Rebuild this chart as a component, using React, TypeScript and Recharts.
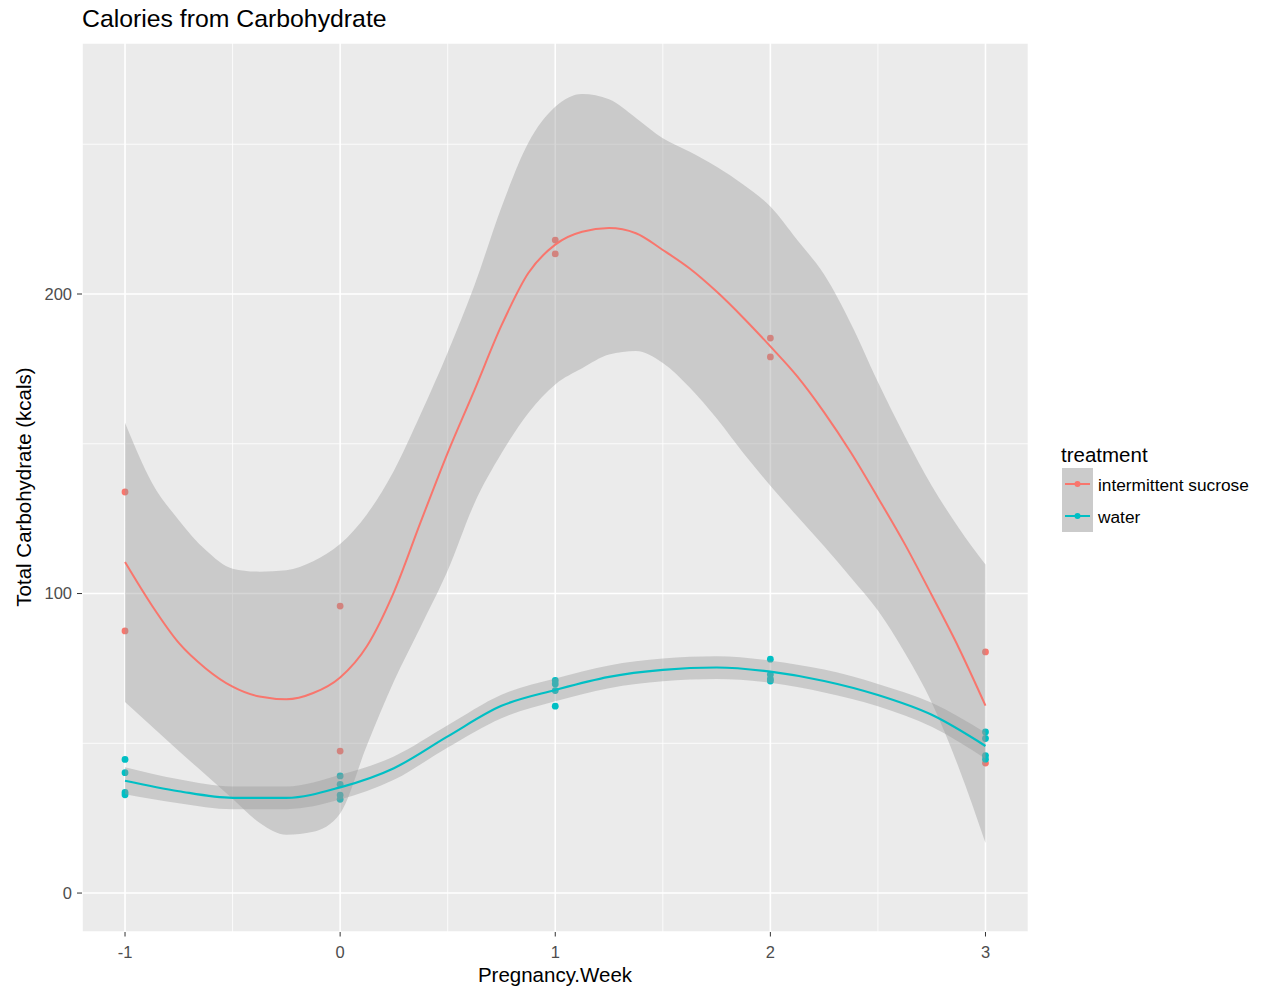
import React from 'react';
import {
  ComposedChart,
  Area,
  Line,
  Scatter,
  XAxis,
  YAxis,
  CartesianGrid,
} from 'recharts';

// ---- data ----
// sucrose loess fit, sampled along the drawn curve
const sucroseFitWeeks = [-1, -0.875, -0.75, -0.625, -0.5, -0.375, -0.25, -0.125, 0, 0.125, 0.25, 0.375, 0.5, 0.625, 0.75, 0.875, 1, 1.125, 1.25, 1.375, 1.5, 1.625, 1.75, 1.875, 2, 2.125, 2.25, 2.375, 2.5, 2.625, 2.75, 2.875, 3];
const sucroseFit = [110.5, 96, 83.5, 75, 68.9, 65.6, 64.7, 66.8, 72, 82.5, 100.5, 124, 147, 168, 189.5, 207, 216.5, 220.8, 222, 220.3, 214.7, 208.5, 200.8, 192, 182.5, 172.5, 160.5, 147, 132, 116.5, 99.5, 82, 62.6];

// sucrose confidence band
const sucroseBandWeeks = [-1, -0.875, -0.75, -0.625, -0.5, -0.375, -0.25, -0.125, 0, 0.125, 0.25, 0.375, 0.5, 0.625, 0.75, 0.875, 1, 1.125, 1.25, 1.375, 1.5, 1.625, 1.75, 1.875, 2, 2.125, 2.25, 2.375, 2.5, 2.625, 2.75, 2.875, 3];
const sucroseLower = [63.8, 55.6, 47.4, 39.5, 31.5, 23.5, 19.5, 20.5, 26.6, 49.4, 70.7, 89, 107.7, 130.2, 146.8, 160.3, 169.8, 175.2, 179.8, 181, 177, 168.8, 158.5, 146.8, 136, 125.8, 115.8, 105.3, 94.3, 80.2, 63.6, 42, 16.7];
const sucroseUpper = [157, 137, 124.5, 114.5, 108.3, 107.3, 107.8, 110.8, 116.5, 126.5, 141, 160, 180.5, 203, 229, 250.5, 262.5, 266.8, 265, 258.8, 252, 247.5, 242.5, 236.5, 229.2, 218, 206.5, 190, 170.6, 152.5, 136, 122, 109.7];

// water loess fit and band
const waterWeeks = [-1, -0.75, -0.5, -0.25, 0, 0.25, 0.5, 0.75, 1, 1.25, 1.5, 1.75, 2, 2.25, 2.5, 2.75, 3];
const waterFit = [37.5, 34, 31.8, 31.8, 35.3, 41.7, 52.3, 62.5, 67.8, 72.2, 74.5, 75.3, 73.9, 70.8, 66.1, 59.5, 49.1];
const waterLower = [33, 30, 28, 28, 31.2, 37.8, 48.6, 58.4, 64, 68.4, 70.7, 71.5, 70.2, 67, 62.4, 55.5, 44.8];
const waterUpper = [42, 38, 35.6, 35.6, 39.5, 45.6, 56, 66.2, 71.6, 76, 78.3, 79.1, 77.6, 74.6, 69.8, 63.5, 53.5];

// observed points
const sucrosePointWeeks = [-1, -1, 0, 0, 1, 1, 2, 2, 3, 3];
const sucrosePointKcal = [133.9, 87.5, 95.8, 47.4, 218, 213.4, 185.3, 179, 80.5, 43.4];
const waterPointWeeks = [-1, -1, -1, -1, 0, 0, 0, 0, 1, 1, 1, 1, 2, 2, 2, 2, 3, 3, 3, 3];
const waterPointKcal = [44.6, 40.2, 33.6, 32.8, 39.1, 36.3, 32.7, 31.3, 71, 69.8, 67.6, 62.4, 78.1, 73, 71.5, 70.8, 53.8, 51.6, 45.9, 44.7];

const xTicks = [-1, 0, 1, 2, 3];
const yTicks = [0, 100, 200];
const xMinor = [-0.5, 0.5, 1.5, 2.5];
const yMinor = [50, 150, 250];
const xDomain: [number, number] = [-1.2, 3.2];
const yDomain: [number, number] = [-13, 283.8];

const treatments = ['intermittent sucrose', 'water'];
const RED = '#F8766D';
const CYAN = '#00BFC4';

// ---- tables built from the arrays ----
const sucroseFitData = sucroseFitWeeks.map((w, i) => ({ week: w, fit: sucroseFit[i] }));
const sucroseBandData = sucroseBandWeeks.map((w, i) => ({ week: w, band: [sucroseLower[i], sucroseUpper[i]] }));
const waterData = waterWeeks.map((w, i) => ({ week: w, fit: waterFit[i], band: [waterLower[i], waterUpper[i]] }));
const sucrosePoints = sucrosePointWeeks.map((w, i) => ({ week: w, kcal: sucrosePointKcal[i] }));
const waterPoints = waterPointWeeks.map((w, i) => ({ week: w, kcal: waterPointKcal[i] }));

const FONT = '"Liberation Sans", Arial, Helvetica, sans-serif';

const dot = (color: string) => (p: any) => (
  <circle cx={p.cx} cy={p.cy} r={3.4} fill={color} stroke="none" />
);

const minorH = ({ yAxis, offset }: any) => {
  if (yAxis && typeof yAxis.scale === 'function') return yMinor.map((v) => yAxis.scale(v));
  return yMinor.map((v) => offset.top + (offset.height * (yDomain[1] - v)) / (yDomain[1] - yDomain[0]));
};
const minorV = ({ xAxis, offset }: any) => {
  if (xAxis && typeof xAxis.scale === 'function') return xMinor.map((v) => xAxis.scale(v));
  return xMinor.map((v) => offset.left + (offset.width * (v - xDomain[0])) / (xDomain[1] - xDomain[0]));
};

export default function App() {
  return (
    <div style={{ position: 'absolute', left: 0, top: 0, width: 1262, height: 994, background: '#fff', fontFamily: FONT }}>
      <ComposedChart
        width={1262}
        height={994}
        margin={{ top: 43, right: 233.5, bottom: 22, left: 32 }}
      >
        <CartesianGrid fill="#EBEBEB" stroke="#FFFFFF" strokeWidth={1.6} />
        <CartesianGrid
          fill="none"
          stroke="#FFFFFF"
          strokeWidth={0.8}
          horizontalCoordinatesGenerator={minorH}
          verticalCoordinatesGenerator={minorV}
        />
        <XAxis
          dataKey="week"
          type="number"
          domain={xDomain}
          ticks={xTicks}
          allowDataOverflow
          axisLine={false}
          tickSize={4.5}
          tickMargin={10}
          height={40}
          tickLine={{ stroke: '#333333', strokeWidth: 1 }}
          tick={{ fill: '#4D4D4D', fontSize: 16.5, fontFamily: FONT }}
        />
        <YAxis
          type="number"
          domain={yDomain}
          ticks={yTicks}
          allowDataOverflow
          axisLine={false}
          width={50}
          tickSize={5}
          tickMargin={5}
          tickLine={{ stroke: '#333333', strokeWidth: 1 }}
          tick={{ fill: '#4D4D4D', fontSize: 16.5, fontFamily: FONT }}
        />
        <Scatter data={sucrosePoints} dataKey="kcal" shape={dot(RED)} isAnimationActive={false} zIndex={50} />
        <Scatter data={waterPoints} dataKey="kcal" shape={dot(CYAN)} isAnimationActive={false} zIndex={50} />
        <Area
          data={sucroseBandData}
          dataKey="band"
          type="monotone"
          fill="#999999"
          fillOpacity={0.4}
          stroke="none"
          isAnimationActive={false}
          activeDot={false}
          dot={false}
        />
        <Line
          data={sucroseFitData}
          dataKey="fit"
          type="monotone"
          stroke={RED}
          strokeWidth={2}
          dot={false}
          activeDot={false}
          isAnimationActive={false}
        />
        <Area
          data={waterData}
          dataKey="band"
          type="monotone"
          fill="#999999"
          fillOpacity={0.4}
          stroke="none"
          isAnimationActive={false}
          activeDot={false}
          dot={false}
        />
        <Line
          data={waterData}
          dataKey="fit"
          type="monotone"
          stroke={CYAN}
          strokeWidth={2.2}
          dot={false}
          activeDot={false}
          isAnimationActive={false}
        />
      </ComposedChart>

      {/* title */}
      <div style={{ position: 'absolute', left: 82, top: 5, fontSize: 24.8, color: '#000', whiteSpace: 'nowrap' }}>
        Calories from Carbohydrate
      </div>
      {/* x title */}
      <div style={{ position: 'absolute', left: 405, width: 300, top: 963, textAlign: 'center', fontSize: 20.5, color: '#000' }}>
        Pregnancy.Week
      </div>
      {/* y title */}
      <div
        style={{
          position: 'absolute',
          left: 24 - 160,
          top: 487 - 12,
          width: 320,
          height: 24,
          lineHeight: '24px',
          textAlign: 'center',
          fontSize: 20.5,
          color: '#000',
          transform: 'rotate(-90deg)',
          whiteSpace: 'nowrap',
        }}
      >
        Total Carbohydrate (kcals)
      </div>
      {/* legend */}
      <div style={{ position: 'absolute', left: 1061, top: 443, fontSize: 20.5, color: '#000', whiteSpace: 'nowrap' }}>
        treatment
      </div>
      {treatments.map((t, i) => {
        const color = i === 0 ? RED : CYAN;
        return (
          <div key={t} style={{ position: 'absolute', left: 1062, top: 468 + i * 32, height: 32, display: 'flex', alignItems: 'center' }}>
            <svg width={31} height={32} style={{ display: 'block' }}>
              <rect x={0} y={0} width={31} height={32} fill="#CBCBCB" />
              <line x1={3} y1={16} x2={28} y2={16} stroke={color} strokeWidth={2} />
              <circle cx={15.5} cy={16} r={3} fill={color} />
            </svg>
            <span style={{ marginLeft: 5, marginTop: 3, fontSize: 17.3, color: '#000', whiteSpace: 'nowrap' }}>{t}</span>
          </div>
        );
      })}
    </div>
  );
}
